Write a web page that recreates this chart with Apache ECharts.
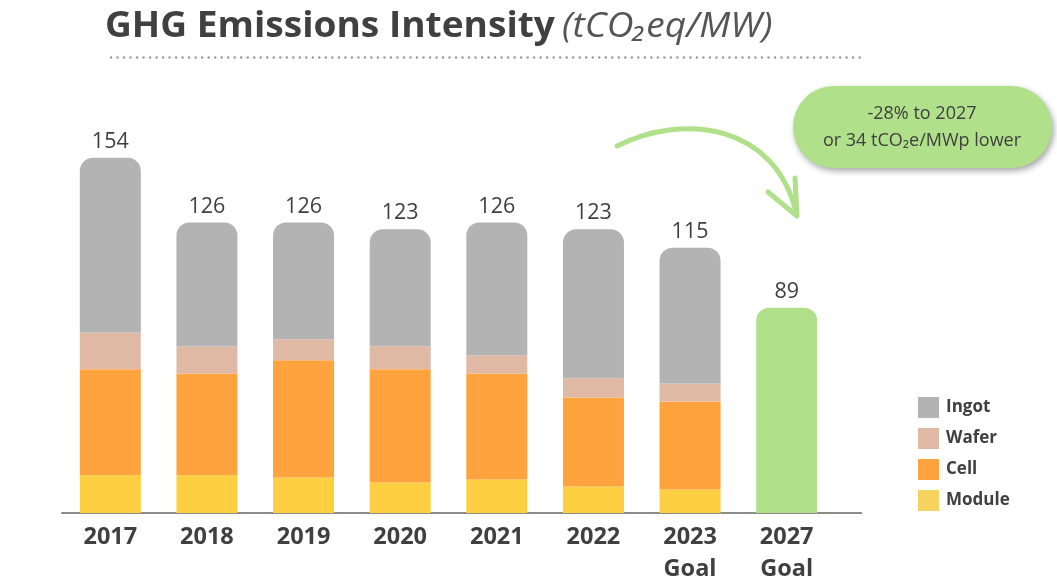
<!DOCTYPE html>
<html>
<head>
<meta charset="utf-8">
<script src="https://cdn.jsdelivr.net/npm/echarts@6/dist/echarts.min.js"></script>
<style>
  html, body { margin: 0; padding: 0; background: #ffffff; }
  #chart { width: 1057px; height: 582px; }
</style>
</head>
<body>
<div id="chart"></div>
<script>
// ---- Data ----
const categories = ['2017', '2018', '2019', '2020', '2021', '2022', '2023\nGoal', '2027\nGoal'];
const moduleVals = [16.4, 16.4, 15.4, 13.2, 14.5, 11.5, 10.2, '-'];
const cellVals   = [45.9, 44.1, 50.8, 49.1, 46.0, 38.6, 38.2, '-'];
const waferVals  = [16.0, 11.7,  9.1, 10.0,  7.9,  8.3,  7.8, '-'];
const ingotVals  = [75.7, 53.8, 50.7, 50.7, 57.6, 64.6, 58.8, '-'];
const goalVals   = ['-', '-', '-', '-', '-', '-', '-', 89];
const totals     = [154, 126, 126, 123, 126, 123, 115, 89];
const legendNames = ['Ingot', 'Wafer', 'Cell', 'Module'];

const C_TEXT = '#404040';
const FONT = "'Open Sans', 'Noto Sans', sans-serif";
const colors = { Ingot: '#b3b3b3', Wafer: '#e0b9a5', Cell: '#ffa33f', Module: '#ffcf42', Goal: '#b0e08a' };
const legendColors = { Ingot: '#b3b3b3', Wafer: '#e0b9a5', Cell: '#ffa33f', Module: '#f5d35e' };

const chart = echarts.init(document.getElementById('chart'), null, { renderer: 'canvas' });

const barW = 61;
const labelStyle = { show: true, position: 'top', distance: 5, color: C_TEXT, fontSize: 21.5, fontFamily: FONT };

const option = {
  backgroundColor: '#ffffff',
  animation: false,
  textStyle: { fontFamily: FONT },
  legend: {
    data: legendNames.map(n => ({ name: n, itemStyle: { color: legendColors[n] } })),
    orient: 'vertical',
    left: 918, top: 397, padding: 0,
    icon: 'rect',
    itemWidth: 21, itemHeight: 21, itemGap: 10,
    textStyle: { color: C_TEXT, fontSize: 17, fontWeight: 'bold', fontFamily: FONT, padding: [0, 0, 0, 2] }
  },
  grid: { left: 62, right: 222, top: 144, bottom: 69, containLabel: false, outerBoundsMode: 'none' },
  xAxis: {
    type: 'category',
    data: categories,
    axisLine: { lineStyle: { color: '#8c8c8c', width: 2 } },
    axisTick: { show: false },
    axisLabel: { color: C_TEXT, fontSize: 23.5, fontWeight: 'bold', fontFamily: FONT, lineHeight: 32, margin: 8, interval: 0 }
  },
  yAxis: { type: 'value', min: 0, max: 160, show: false, splitLine: { show: false } },
  series: [
    { name: 'Module', type: 'bar', stack: 'a', barWidth: barW, data: moduleVals, itemStyle: { color: colors.Module } },
    { name: 'Cell', type: 'bar', stack: 'a', barWidth: barW, data: cellVals, itemStyle: { color: colors.Cell } },
    { name: 'Wafer', type: 'bar', stack: 'a', barWidth: barW, data: waferVals, itemStyle: { color: colors.Wafer } },
    { name: 'Ingot', type: 'bar', stack: 'a', barWidth: barW, data: ingotVals,
      itemStyle: { color: colors.Ingot, borderRadius: [13, 13, 0, 0] },
      label: Object.assign({}, labelStyle, { formatter: p => String(totals[p.dataIndex]) }) },
    { name: 'Goal', type: 'bar', stack: 'a', barWidth: barW, data: goalVals,
      itemStyle: { color: colors.Goal, borderRadius: [13, 13, 0, 0] },
      label: Object.assign({}, labelStyle, { formatter: p => String(totals[p.dataIndex]) }) }
  ],
  graphic: [
    // title
    { type: 'text', x: 105, y: 27, scaleX: 1.06, originX: 0, style: {
        text: '{a|GHG Emissions Intensity}  {b|(tCO₂eq/MW)}', verticalAlign: 'middle', align: 'left',
        rich: {
          a: { fontSize: 35, fontWeight: 'bold', fill: C_TEXT, fontFamily: FONT },
          b: { fontSize: 35, fontStyle: 'italic', fontWeight: 'normal', fill: '#555555', fontFamily: FONT }
        } } },
    // dotted rule under title
    { type: 'line', shape: { x1: 111, y1: 57.5, x2: 862, y2: 57.5 },
      style: { stroke: '#999999', lineWidth: 2.5, lineDash: [0.01, 6.5], lineCap: 'round' } },
    // axis extension
    { type: 'line', shape: { x1: 834, y1: 513, x2: 862, y2: 513 }, style: { stroke: '#8c8c8c', lineWidth: 2 } },
    // curved arrow
    { type: 'bezierCurve', shape: { x1: 617, y1: 146, cpx1: 685, cpy1: 112, cpx2: 775, cpy2: 125, x2: 796, y2: 212 },
      style: { stroke: colors.Goal, lineWidth: 5, fill: null, lineCap: 'round' } },
    { type: 'polyline', shape: { points: [[768, 192], [797, 216], [795, 178]] },
      style: { stroke: colors.Goal, lineWidth: 5, fill: null, lineCap: 'round', lineJoin: 'round' } },
    // callout bubble
    { type: 'rect', shape: { x: 793, y: 86, width: 259, height: 82, r: 41 },
      style: { fill: colors.Goal, shadowBlur: 6, shadowOffsetX: 2, shadowOffsetY: 3, shadowColor: 'rgba(0,0,0,0.35)' } },
    { type: 'text', x: 922, y: 127, style: {
        text: '-28% to 2027\nor 34 tCO₂e/MWp lower', align: 'center', verticalAlign: 'middle',
        fill: C_TEXT, fontSize: 18, lineHeight: 27, fontFamily: FONT } }
  ]
};

chart.setOption(option);
</script>
</body>
</html>
